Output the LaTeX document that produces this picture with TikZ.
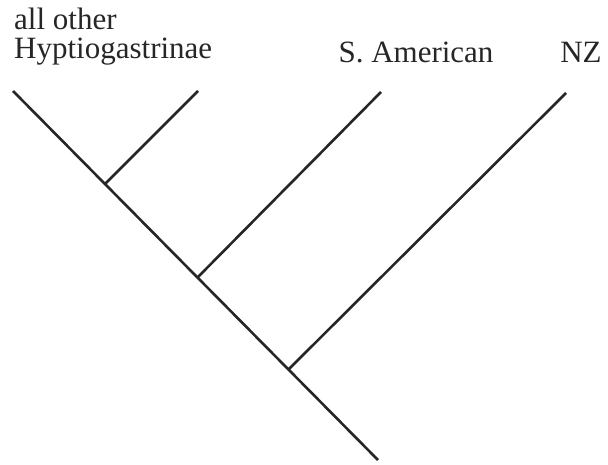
\documentclass[tikz,border=0pt]{standalone}
\usepackage{fontspec}
\setmainfont{Liberation Serif}
\begin{document}
\begin{tikzpicture}[x=1pt,y=-1pt,
  branch/.style={line width=2.6pt, draw=black!85},
  lab/.style={font=\fontsize{31}{29}\selectfont, inner sep=0pt, text=black!85}]
\useasboundingbox (0,0) rectangle (608,465);
\coordinate (a) at (13,91);
\coordinate (root) at (378,460);
\coordinate (j1) at (105,184);
\coordinate (j2) at (198,277);
\coordinate (j3) at (289,369);
\coordinate (t1) at (198,91);
\coordinate (t2) at (381,92);
\coordinate (t3) at (566,93);
\draw[branch] (a) -- (root);
\draw[branch] (j1) -- (t1);
\draw[branch] (j2) -- (t2);
\draw[branch] (j3) -- (t3);
\node[lab, anchor=base west] (l1a) at (14,30) {all other};
\node[lab, anchor=base west] (l1b) at (14,59) {Hyptiogastrinae};
\node[lab, anchor=base] (l2) at (416,63) {S. American};
\node[lab, anchor=base] (l3) at (581,63) {NZ};
\end{tikzpicture}
\end{document}
